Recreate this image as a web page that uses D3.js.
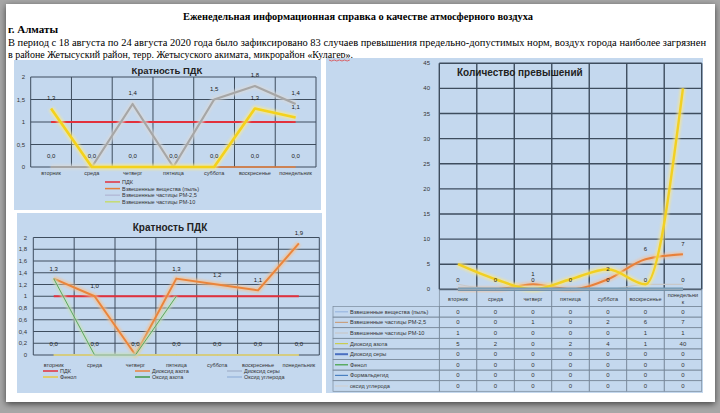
<!DOCTYPE html>
<html><head><meta charset="utf-8">
<script src="https://cdn.jsdelivr.net/npm/d3@7"></script>
<style>body{margin:0;background:#a6a6a6;overflow:hidden}svg{display:block}</style>
</head><body>
<svg id="c" width="720" height="413"></svg>
<script>
// ---------- DATA ----------
const days = ["вторник","среда","четверг","пятница","суббота","воскресенье","понедельник"];
// Chart 1 (Кратность ПДК, top-left)
const c1Names = ["ПДК","Взвешенные вещества (пыль)","Взвешенные частицы РМ-2,5","Взвешенные частицы РМ-10"];
const c1Pdk   = [1,1,1,1,1,1,1];
const c1Dust  = [0,0,0,0,0,0,0];
const c1Pm25  = [0,0,1.4,0,1.5,1.8,1.4];
const c1Pm10  = [1.3,0,0,0,0,1.3,1.1];
const c1Ticks = [0,0.5,1,1.5,2];
// Chart 2 (Кратность ПДК, bottom-left)
const c2Names = ["ПДК","Диоксид азота","Диоксид серы","Фенол","Оксид азота","Оксид углерода"];
const c2Pdk    = [1,1,1,1,1,1,1];
const c2No2    = [1.3,1.0,0,1.3,1.2,1.1,1.9];
const c2So2    = [0,0,0,0,0,0,0];
const c2Phenol = [0,0,0,0,0,0,0];
const c2No     = [1.3,0,0,1.0,null,null,null];
const c2Co     = [0,0,0,0,0,0,0];
const c2Ticks  = [0,0.2,0.4,0.6,0.8,1,1.2,1.4,1.6,1.8,2];
// Chart 3 (Количество превышений, right)
const c3Names = ["Взвешенные вещества (пыль)","Взвешенные частицы РМ-2,5","Взвешенные частицы РМ-10","Диоксид азота","Диоксид серы","Фенол","Формальдегид","оксид углерода"];
const c3Dust   = [0,0,0,0,0,0,0];
const c3Pm25   = [0,0,1,0,2,6,7];
const c3Pm10   = [1,0,0,0,0,1,1];
const c3No2    = [5,2,0,2,4,1,40];
const c3So2    = [0,0,0,0,0,0,0];
const c3Phenol = [0,0,0,0,0,0,0];
const c3Form   = [0,0,0,0,0,0,0];
const c3Co     = [0,0,0,0,0,0,0];
const c3Ticks  = [0,5,10,15,20,25,30,35,40,45];

// ---------- SETUP ----------
const svg = d3.select("#c");
const defs = svg.append("defs");
const sh = defs.append("filter").attr("id","sh").attr("x","-5%").attr("y","-5%").attr("width","110%").attr("height","110%");
sh.append("feGaussianBlur").attr("in","SourceAlpha").attr("stdDeviation",3);
sh.append("feOffset").attr("dx",0).attr("dy",2).attr("result","b");
sh.append("feComponentTransfer").append("feFuncA").attr("type","linear").attr("slope",0.6);
const m = sh.append("feMerge"); m.append("feMergeNode"); m.append("feMergeNode").attr("in","SourceGraphic");
const glow = defs.append("filter").attr("id","glow").attr("x","-10%").attr("y","-10%").attr("width","120%").attr("height","120%");
glow.append("feGaussianBlur").attr("stdDeviation",1.2);

const BLUE = "#c4d8ee";
const GRID = "#3e4d5e";
const SERIF = "Liberation Serif, serif";
const SANS = "Liberation Sans, Arial, sans-serif";
const fmt = v => d3.format(".1f")(v).replace(".", ",");

svg.append("rect").attr("x",6).attr("y",4).attr("width",709).attr("height",398).attr("fill","#fff").attr("filter","url(#sh)");

// Header text
svg.append("text").attr("x",358).attr("y",20).attr("text-anchor","middle")
  .attr("font-family",SERIF).attr("font-weight","bold").attr("font-size",11)
  .attr("textLength",350).attr("lengthAdjust","spacingAndGlyphs")
  .text("Еженедельная информационная справка о качестве атмосферного воздуха");
svg.append("text").attr("x",8).attr("y",33).attr("font-family",SERIF).attr("font-weight","bold").attr("font-size",11)
  .text("г. Алматы");
svg.append("text").attr("x",8).attr("y",45.5).attr("font-family",SERIF).attr("font-size",10.3)
  .attr("textLength",698).attr("lengthAdjust","spacingAndGlyphs")
  .text("В период с 18 августа по 24 августа 2020 года было зафиксировано 83 случаев превышения  предельно-допустимых  норм, воздух города наиболее загрязнен");
svg.append("text").attr("x",8).attr("y",57.5).attr("font-family",SERIF).attr("font-size",10.3)
  .attr("textLength",345).attr("lengthAdjust","spacingAndGlyphs")
  .text("в районе Жетысуский район, терр. Жетысуского акимата, микрорайон «Кулагер».");

// panels
svg.append("rect").attr("x",14).attr("y",60).attr("width",307).attr("height",150).attr("fill",BLUE);
svg.append("rect").attr("x",17).attr("y",213).attr("width",305).attr("height",180).attr("fill",BLUE);
svg.append("rect").attr("x",326).attr("y",58).attr("width",377).attr("height",335).attr("fill",BLUE);
// red spell underline
svg.append("path").attr("d", d3.range(0,9).map((i)=>`${i?"L":"M"}${329+i*2.6},${60+(i%2)}`).join(""))
  .attr("fill","none").attr("stroke","#e03030").attr("stroke-width",0.7);

function grid(g, x, y, ticks, x0, x1, w) {
  ticks.forEach(t => g.append("line").attr("x1",x0).attr("x2",x1).attr("y1",y(t)).attr("y2",y(t))
    .attr("stroke",GRID).attr("stroke-width",w));
  d3.range(days.length+1).forEach(i => {
    const xx = i<days.length ? x(days[i]) : x1;
    g.append("line").attr("x1",xx).attr("x2",xx).attr("y1",y(ticks[ticks.length-1])).attr("y2",y(0))
      .attr("stroke",GRID).attr("stroke-width",w);
  });
}
function series(g, x, y, vals, color, width, glowColor, curve) {
  const line = d3.line().defined(d=>d!==null).x((d,i)=>x(days[i])+x.bandwidth()/2).y(d=>y(d)).curve(curve||d3.curveLinear);
  if (glowColor) g.append("path").attr("d",line(vals)).attr("fill","none").attr("stroke",glowColor)
      .attr("stroke-width",width+3.5).attr("stroke-opacity",0.7).attr("filter","url(#glow)").attr("stroke-linejoin","round");
  g.append("path").attr("d",line(vals)).attr("fill","none").attr("stroke",color).attr("stroke-width",width).attr("stroke-linejoin","round");
}
function labels(g, x, y, vals, off, f, filt) {
  vals.forEach((v,i)=>{ if (v===null || (filt && !filt(v))) return;
    g.append("text").attr("x",x(days[i])+x.bandwidth()/2).attr("y",y(v)-off).attr("text-anchor","middle")
      .attr("font-family",SANS).attr("font-size",6).attr("fill","#1a1a1a").text(f(v)); });
}
function yLabels(g, y, ticks, xr, f) {
  ticks.forEach(t => g.append("text").attr("x",xr).attr("y",y(t)+2).attr("text-anchor","end")
    .attr("font-family",SANS).attr("font-size",6).attr("fill","#333").text(f(t)));
}
function xLabels(g, x, yy) {
  days.forEach(d => g.append("text").attr("x",x(d)+x.bandwidth()/2).attr("y",yy).attr("text-anchor","middle")
    .attr("font-family",SANS).attr("font-size",5.5).attr("fill","#333").text(d));
}
function legendItem(g, lx, ly, color, label, w) {
  g.append("line").attr("x1",lx).attr("x2",lx+15).attr("y1",ly).attr("y2",ly).attr("stroke",color).attr("stroke-width",w||1.5);
  g.append("text").attr("x",lx+17).attr("y",ly+2).attr("font-family",SANS).attr("font-size",5.5).attr("fill","#333").text(label);
}

// ---------- CHART 1 ----------
{
  const g = svg.append("g");
  const x = d3.scaleBand().domain(days).range([30.7,316]);
  const y = d3.scaleLinear().domain([0,2]).range([167,77]);
  grid(g,x,y,c1Ticks,30.7,316,1);
  g.append("text").attr("x",167).attr("y",73.5).attr("text-anchor","middle").attr("font-family",SANS)
    .attr("font-weight","bold").attr("font-size",9.5).attr("fill","#222").text("Кратность ПДК");
  yLabels(g,y,c1Ticks,25,t=>String(t).replace(".",","));
  series(g,x,y,c1Pdk,"#e2313c",1.8);
  series(g,x,y,c1Dust,"#e67e3a",1.5);
  series(g,x,y,c1Pm25,"#a6a6a6",2.2,"#d8d8d8");
  series(g,x,y,c1Pm10,"#f4d21c",2.6,"#f9e88a");
  labels(g,x,y,c1Dust,9,fmt);
  labels(g,x,y,c1Pm25,9,fmt,v=>v>0);
  labels(g,x,y,c1Pm10,9,fmt,v=>v>0);
  xLabels(g,x,175);
  const lc = ["#e2313c","#e67e3a","#b4bcd8","#c6dc72"];
  c1Names.forEach((n,i)=>legendItem(g,105,182+i*6.6,lc[i],n));
}
// ---------- CHART 2 ----------
{
  const g = svg.append("g");
  const x = d3.scaleBand().domain(days).range([33.3,319.3]);
  const y = d3.scaleLinear().domain([0,2]).range([355,237.5]);
  grid(g,x,y,c2Ticks,33.3,319.3,1);
  g.append("text").attr("x",170).attr("y",230.5).attr("text-anchor","middle").attr("font-family",SANS)
    .attr("font-weight","bold").attr("font-size",10).attr("fill","#222").text("Кратность ПДК");
  yLabels(g,y,c2Ticks,27,t=>String(t).replace(".",","));
  series(g,x,y,c2Pdk,"#e2313c",1.8);
  series(g,x,y,c2No2,"#ea853c",2,"#f6c08e");
  series(g,x,y,c2So2,"#a8b8d0",1);
  series(g,x,y,c2Phenol,"#f0cc20",2);
  series(g,x,y,c2No,"#5aa860",1,"#c8e0b8");
  series(g,x,y,c2Co,"#b8cce4",1);
  labels(g,x,y,c2Phenol,9,fmt);
  labels(g,x,y,c2No2,8,fmt,v=>v>0);
  xLabels(g,x,367);
  const lc = ["#e2313c","#ea853c","#a8b8d0","#e8c840","#3f9a48","#9cb8dc"];
  const cols = [43,135,227];
  c2Names.forEach((n,i)=>legendItem(g,cols[i%3],371+Math.floor(i/3)*6,lc[i],n));
}
// ---------- CHART 3 ----------
{
  const g = svg.append("g");
  const x = d3.scaleBand().domain(days).range([439.3,701.7]);
  const y = d3.scaleLinear().domain([0,45]).range([289.3,63.3]);
  grid(g,x,y,c3Ticks,439.3,701.7,1.4);
  g.append("text").attr("x",457).attr("y",75.5).attr("font-family",SANS)
    .attr("font-weight","bold").attr("font-size",10).attr("fill","#222").text("Количество превышений");
  yLabels(g,y,c3Ticks,430,t=>t);
  const cv = d3.curveMonotoneX;
  series(g,x,y,c3Dust,"#9ab8e0",1.5,null,cv);
  series(g,x,y,c3Pm25,"#e8803a",2,"#f4c09a",cv);
  series(g,x,y,c3Pm10,"#c8c8c8",1.2,null,cv);
  series(g,x,y,c3No2,"#f2d022",2.4,"#f8e68a",cv);
  series(g,x,y,c3So2,"#4a6fc0",2.5,null,cv);
  series(g,x,y,c3Phenol,"#40a040",1.5,null,cv);
  series(g,x,y,c3Form,"#6f97b2",3.6,"#9fbccc",cv);
  series(g,x,y,c3Co,"#c8d0d8",0.8,null,cv);
  labels(g,x,y,c3Dust,7,v=>v);
  labels(g,x,y,c3Pm25,8,v=>v,v=>v>0);
  // data table
  const tableData = [c3Dust,c3Pm25,c3Pm10,c3No2,c3So2,c3Phenol,c3Form,c3Co];
  const keyCol = ["#9ab8e0","#c8a080","#c8c8c8","#c8cc50","#4a6fc0","#40a040","#4a80c0","#d0d0d0"];
  const hy0 = 290, hy1 = 306.5, rh = 10.6, lx0 = 333;
  days.forEach(d=>{
    g.append("rect").attr("x",x(d)).attr("y",hy0).attr("width",x.bandwidth()).attr("height",hy1-hy0)
      .attr("fill","none").attr("stroke","#7a8a9c").attr("stroke-width",0.7);
    if (d==="понедельник") {
      g.append("text").attr("x",x(d)+x.bandwidth()/2).attr("y",297).attr("text-anchor","middle").attr("font-family",SANS).attr("font-size",5.5).attr("fill","#333").text("понедельни");
      g.append("text").attr("x",x(d)+x.bandwidth()/2).attr("y",304).attr("text-anchor","middle").attr("font-family",SANS).attr("font-size",5.5).attr("fill","#333").text("к");
    } else {
      g.append("text").attr("x",x(d)+x.bandwidth()/2).attr("y",300.5).attr("text-anchor","middle").attr("font-family",SANS).attr("font-size",5.5).attr("fill","#333").text(d);
    }
  });
  tableData.forEach((row,r)=>{
    const ry = hy1 + r*rh;
    g.append("rect").attr("x",lx0).attr("y",ry).attr("width",439.3-lx0).attr("height",rh).attr("fill","none").attr("stroke","#7a8a9c").attr("stroke-width",0.7);
    g.append("line").attr("x1",lx0+2).attr("x2",lx0+15).attr("y1",ry+rh/2).attr("y2",ry+rh/2).attr("stroke",keyCol[r]).attr("stroke-width",r===4?2:1.2);
    g.append("text").attr("x",lx0+17).attr("y",ry+rh/2+2).attr("font-family",SANS).attr("font-size",5.6).attr("fill","#333").text(c3Names[r]);
    row.forEach((v,i)=>{
      g.append("rect").attr("x",x(days[i])).attr("y",ry).attr("width",x.bandwidth()).attr("height",rh).attr("fill","none").attr("stroke","#7a8a9c").attr("stroke-width",0.7);
      g.append("text").attr("x",x(days[i])+x.bandwidth()/2).attr("y",ry+rh/2+2).attr("text-anchor","middle").attr("font-family",SANS).attr("font-size",6).attr("fill","#333").text(v);
    });
  });
}
</script>
</body></html>
